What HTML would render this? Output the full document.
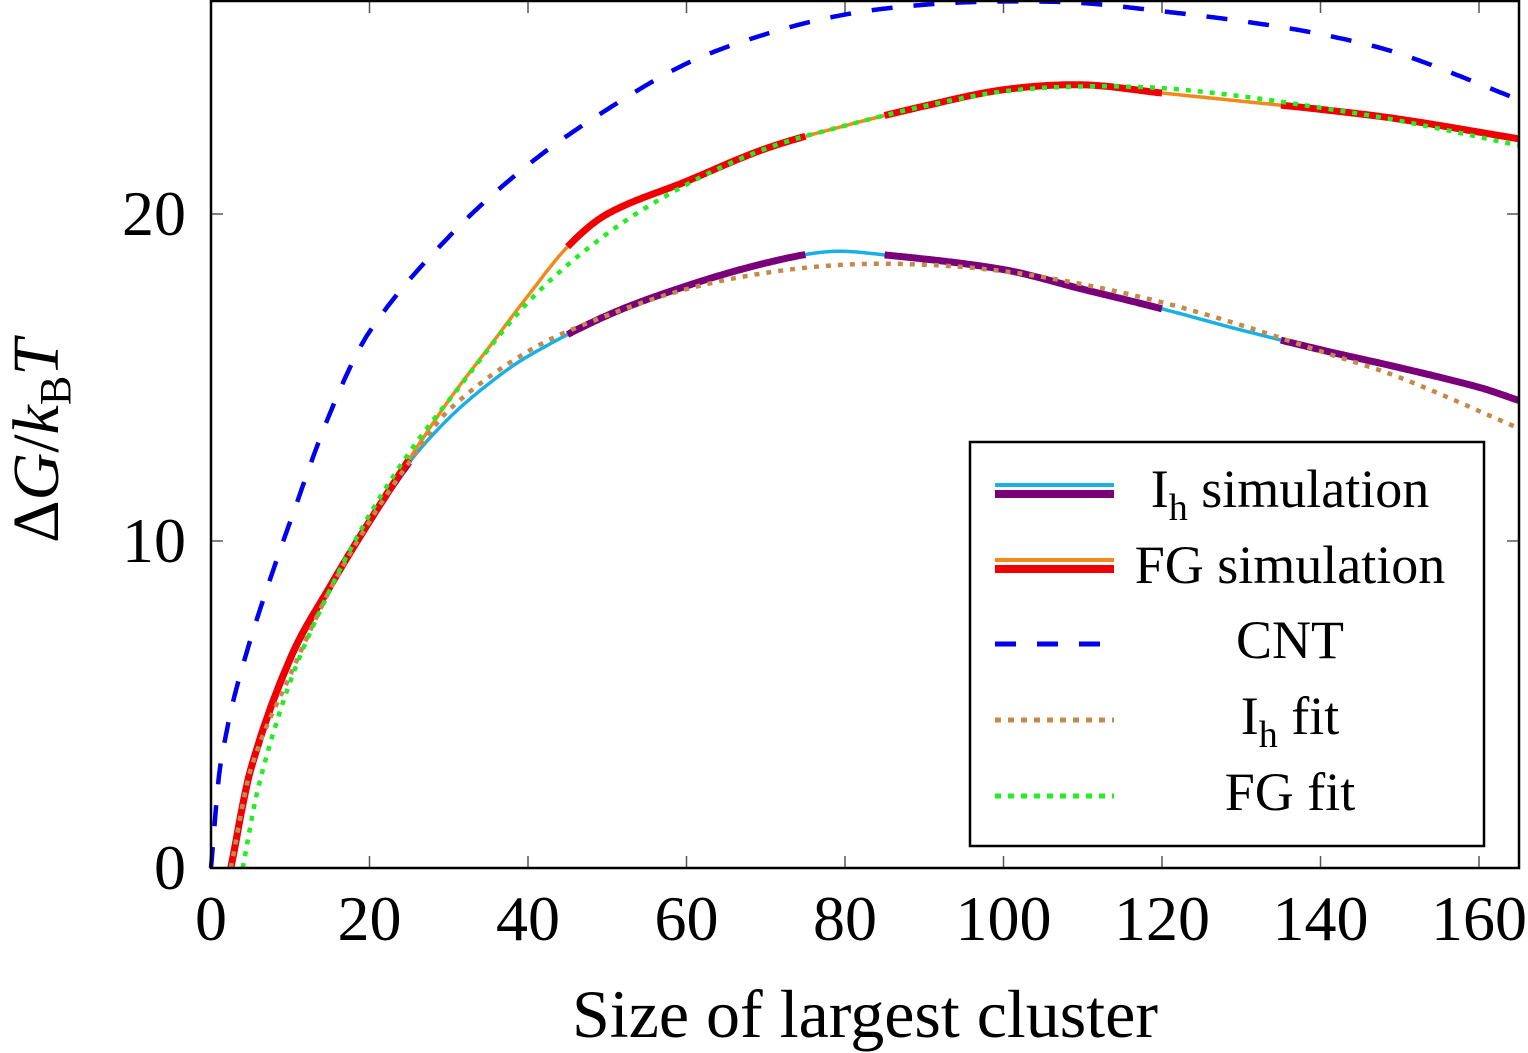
<!DOCTYPE html>
<html><head><meta charset="utf-8"><style>
html,body{margin:0;padding:0;background:#fff;}
svg{display:block;font-family:"Liberation Serif",serif;}
</style></head><body>
<svg id="chart" width="1528" height="1053" viewBox="0 0 1528 1053">
<g id="grid"></g>
<g id="series"></g>
<rect x="211" y="1" width="1308" height="867" fill="none" stroke="#000" stroke-width="2.5"/>
<g id="ticklabels"></g>
<text x="865" y="1037" font-size="68" text-anchor="middle">Size of largest cluster</text>
<text transform="translate(58,441) rotate(-90)" font-size="66" text-anchor="middle">Δ<tspan font-style="italic">G</tspan>/<tspan font-style="italic">k</tspan><tspan font-size="44" dy="12">B</tspan><tspan dy="-12" font-style="italic">T</tspan></text>
<g>
<rect x="970" y="442" width="514" height="404" fill="#fff" stroke="#000" stroke-width="2.5"/>
<g>
<line x1="995" y1="485" x2="1114" y2="485" stroke="#1ab0e6" stroke-width="4"/>
<line x1="995" y1="494" x2="1114" y2="494" stroke="#7a007a" stroke-width="8"/>
<text x="1290" y="507" font-size="54" text-anchor="middle">I<tspan font-size="38" dy="13">h</tspan><tspan dy="-13"> simulation</tspan></text></g>
<g>
<line x1="995" y1="560" x2="1114" y2="560" stroke="#f08a1c" stroke-width="4"/>
<line x1="995" y1="569" x2="1114" y2="569" stroke="#f00000" stroke-width="8"/>
<text x="1290" y="583" font-size="54" text-anchor="middle">FG simulation</text></g>
<g>
<line x1="995" y1="644" x2="1100" y2="644" stroke="#0000ee" stroke-width="5" stroke-dasharray="21 21"/>
<text x="1290" y="658" font-size="54" text-anchor="middle">CNT</text></g>
<g>
<line x1="995" y1="720" x2="1114" y2="720" stroke="#c48a4a" stroke-width="5" stroke-dasharray="6 7"/>
<text x="1290" y="734" font-size="54" text-anchor="middle">I<tspan font-size="38" dy="13">h</tspan><tspan dy="-13"> fit</tspan></text></g>
<g>
<line x1="995" y1="796" x2="1114" y2="796" stroke="#22ee22" stroke-width="5" stroke-dasharray="6 7"/>
<text x="1290" y="810" font-size="54" text-anchor="middle">FG fit</text></g>
</g>
</svg>
<script>
const xTicks=[0,20,40,60,80,100,120,140,160];
const yTicks=[0,10,20];
const cntX=[0,1,2,3,5,7,10,15,20,30,40,50,60,70,80,90,100,110,120,130,140,150,165];
const cntY=[0,2.8,4.2,5.3,7.0,8.5,10.6,13.9,16.4,19.3,21.5,23.2,24.6,25.5,26.1,26.4,26.5,26.45,26.2,25.9,25.5,24.9,23.5];
const fgX=[2.5,5,10,15,20,25,30,35,40,45,50,60,70,80,90,100,110,120,130,140,150,165];
const fgY=[0,3.0,6.4,8.6,10.6,12.5,14.3,15.9,17.5,19.0,20.0,21.0,22.0,22.7,23.3,23.8,23.95,23.7,23.45,23.2,22.9,22.3];
const ihX=[2.5,5,10,15,20,25,30,35,40,50,60,70,78,85,100,110,120,130,140,150,160,165];
const ihY=[0,3.0,6.4,8.6,10.6,12.4,13.75,14.8,15.65,16.9,17.8,18.5,18.85,18.75,18.3,17.7,17.1,16.45,15.85,15.3,14.7,14.3];
const fgFitX=[4,6,10,15,20,25,30,40,50,60,70,80,90,100,110,120,130,140,150,165];
const fgFitY=[0,2.5,5.7,8.5,10.8,12.7,14.3,17.3,19.4,20.9,22.0,22.7,23.3,23.75,23.9,23.85,23.6,23.25,22.85,22.1];
const ihFitX=[2.5,5,10,15,20,25,30,40,50,60,70,80,90,100,110,120,130,140,150,165];
const ihFitY=[0,3.0,5.9,8.5,10.6,12.4,14.0,15.8,16.9,17.7,18.2,18.45,18.45,18.25,17.85,17.3,16.6,15.8,15.0,13.45];
const segBreaks=[0,25,45,75,85,120,135,165];

const X=v=>211+v*7.925, Y=v=>868-v*32.7;
const NS="http://www.w3.org/2000/svg";
function mk(tag,attrs,parent){const e=document.createElementNS(NS,tag);for(const k in attrs)e.setAttribute(k,attrs[k]);parent.appendChild(e);return e;}
function interp(xs,ys,x){for(let i=0;i<xs.length-1;i++){if(x>=xs[i]&&x<=xs[i+1]){
  const x0=xs[Math.max(i-1,0)],x1=xs[i],x2=xs[i+1],x3=xs[Math.min(i+2,xs.length-1)];
  const y0=ys[Math.max(i-1,0)],y1=ys[i],y2=ys[i+1],y3=ys[Math.min(i+2,ys.length-1)];
  const h=x2-x1,t=(x-x1)/h;
  const m1=(y2-y0)/(x2-x0||1)*h, m2=(y3-y1)/(x3-x1||1)*h;
  const t2=t*t,t3=t2*t;
  return (2*t3-3*t2+1)*y1+(t3-2*t2+t)*m1+(-2*t3+3*t2)*y2+(t3-t2)*m2;}}
  return ys[ys.length-1];}
function pathD(xs,ys,a,b){a=Math.max(a,xs[0]);b=Math.min(b,xs[xs.length-1]);let d="";
  for(let x=a;x<=b+1e-9;x+=0.25){const y=interp(xs,ys,x);d+=(d?"L":"M")+X(x).toFixed(1)+","+Y(y).toFixed(1);}return d;}

const grid=document.getElementById('grid'),tl=document.getElementById('ticklabels'),S=document.getElementById('series');
xTicks.forEach(v=>{
  let t=mk('line',{x1:X(v),x2:X(v),y1:868,y2:856,stroke:'#555','stroke-width':1.5},grid);
  
  
  t=mk('line',{x1:X(v),x2:X(v),y1:1,y2:13,stroke:'#555','stroke-width':1.5},grid);
  
  
  const l=mk('text',{x:X(v),y:940,'font-size':64,'text-anchor':'middle'},tl);l.textContent=v;
  
  
});
yTicks.forEach(v=>{
  let t=mk('line',{x1:211,x2:223,y1:Y(v),y2:Y(v),stroke:'#555','stroke-width':1.5},grid);
  
  
  t=mk('line',{x1:1507,x2:1519,y1:Y(v),y2:Y(v),stroke:'#555','stroke-width':1.5},grid);
  
  
  const l=mk('text',{x:186,y:Y(v)+21,'font-size':64,'text-anchor':'end'},tl);l.textContent=v;
  
  
});
function line(xs,ys,a,b,attrs,name){const p=mk('path',Object.assign({d:pathD(xs,ys,a,b),fill:'none','stroke-linejoin':'round'},attrs),S);
  
  }
line(cntX,cntY,0,165,{stroke:'#0000ee','stroke-width':4.5,'stroke-dasharray':'21 21'},'cnt-line');
for(let i=0;i<segBreaks.length-1;i++){const thick=i%2==0;
  line(ihX,ihY,segBreaks[i],segBreaks[i+1],thick?{stroke:'#7a007a','stroke-width':7}:{stroke:'#1ab0e6','stroke-width':3.5},'ih-simulation-segment');}
for(let i=0;i<segBreaks.length-1;i++){const thick=i%2==0;
  line(fgX,fgY,segBreaks[i],segBreaks[i+1],thick?{stroke:'#f00000','stroke-width':7}:{stroke:'#f08a1c','stroke-width':3.5},'fg-simulation-segment');}
line(ihFitX,ihFitY,0,165,{stroke:'#c48a4a','stroke-width':4.5,'stroke-dasharray':'5 7'},'ih-fit-line');
line(fgFitX,fgFitY,0,165,{stroke:'#22ee22','stroke-width':4.5,'stroke-dasharray':'5 7'},'fg-fit-line');
</script>
</body></html>
